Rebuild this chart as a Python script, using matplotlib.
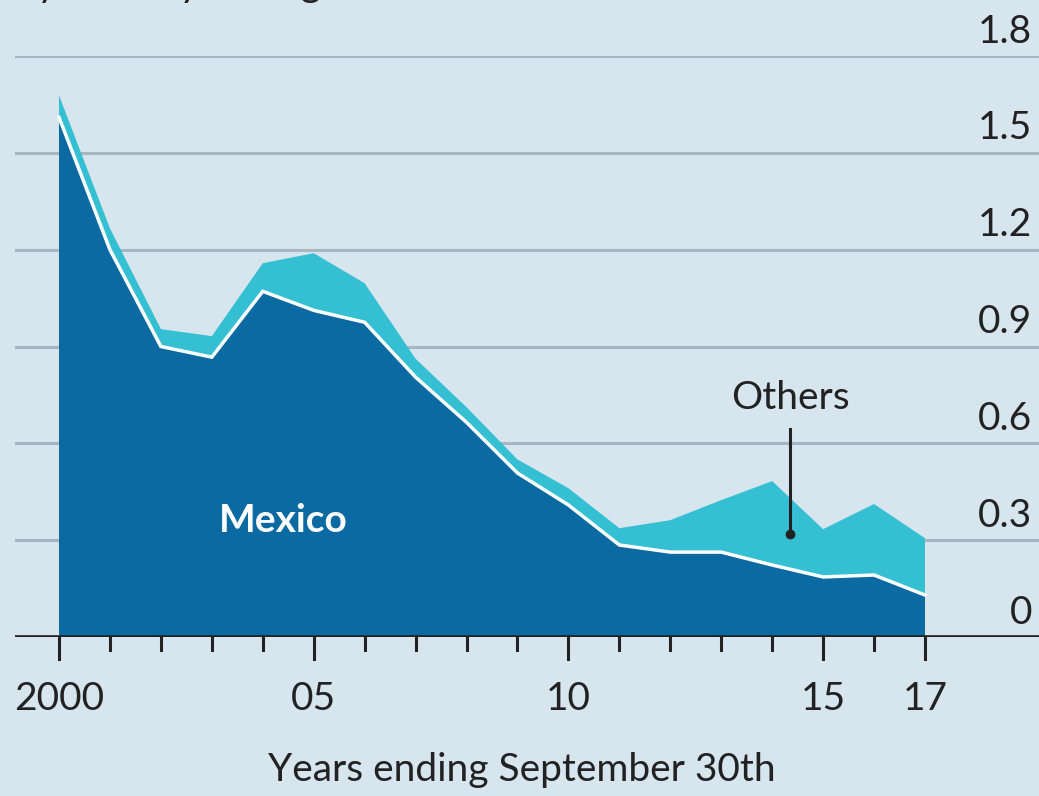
import numpy as np
import matplotlib
matplotlib.use("Agg")
import matplotlib.pyplot as plt
from matplotlib import font_manager
from matplotlib.transforms import blended_transform_factory

# data (m)
years = list(range(2000, 2018))
mexico = [1.61, 1.20, 0.90, 0.867, 1.071, 1.012, 0.975, 0.805, 0.665, 0.508,
          0.409, 0.285, 0.263, 0.263, 0.223, 0.186, 0.192, 0.130]
total = [1.678, 1.266, 0.954, 0.932, 1.158, 1.189, 1.096, 0.862, 0.712, 0.550,
         0.461, 0.337, 0.362, 0.424, 0.483, 0.334, 0.412, 0.306]
others = [t - m for t, m in zip(total, mexico)]
ytick_vals = [0, 0.3, 0.6, 0.9, 1.2, 1.5, 1.8]
ytick_labels = ["0", "0.3", "0.6", "0.9", "1.2", "1.5", "1.8"]
xtick_major = [2000, 2005, 2010, 2015, 2017]
xtick_labels = ["2000", "05", "10", "15", "17"]

BG = "#d6e5ee"
DARK = "#0a6aa1"
CYAN = "#34bfd2"
GRID = "#a7b6c0"
TEXT = "#222222"

# prefer a condensed face if one is installed
installed = {f.name for f in font_manager.fontManager.ttflist}
narrow = "Liberation Sans Narrow" in installed
main_font = "Liberation Sans Narrow" if narrow else "Lato"
plt.rcParams["font.family"] = [main_font, "DejaVu Sans"]
FS = 31 if narrow else 28

W, H = 1039, 796
fig = plt.figure(figsize=(W / 100, H / 100), dpi=100, facecolor=BG)

# axes placed so that 2000 sits at px 59 and 0 at px 637
px_per_year = (925 - 59) / 17
x_left = 2000 - (59 - 15) / px_per_year
x_right = 2000 + (W - 59) / px_per_year
ax_h = 637 - 56
ax = fig.add_axes([15 / W, 1 - 637 / H, 1 - 15 / W, ax_h / H])
ax.set_facecolor(BG)
ax.set_xlim(x_left, x_right)
ax.set_ylim(0, 1.8)

# gridlines
for v in ytick_vals[1:]:
    ax.axhline(v, color=GRID, lw=2.2, zorder=1)

# stacked areas
ax.stackplot(years, mexico, others, colors=[DARK, CYAN], lw=0, zorder=2)
ax.plot(years, mexico, color="white", lw=2.5, zorder=3, solid_joinstyle="miter")

# baseline
ax.axhline(0, color=TEXT, lw=2.6, zorder=4)

for s in ax.spines.values():
    s.set_visible(False)
ax.set_xticks([])
ax.set_yticks([])

# right-hand labels sitting above gridlines
trans = blended_transform_factory(ax.transAxes, ax.transData)
for v, lab in zip(ytick_vals, ytick_labels):
    ax.text(0.9935, v + 0.02, lab, transform=trans, ha="right", va="bottom",
            fontsize=FS, color=TEXT)

# x ticks drawn below the baseline
tick_trans = blended_transform_factory(ax.transData, ax.transAxes)
for yr in years:
    length = 22 if yr in xtick_major else 13
    ax.plot([yr, yr], [0, -length / ax_h], color=TEXT, lw=2.2,
            transform=tick_trans, clip_on=False, zorder=4)
for yr, lab in zip(xtick_major, xtick_labels):
    ax.text(yr, -44 / ax_h, lab, transform=tick_trans, ha="center",
            va="top", fontsize=FS, color=TEXT)

fig.text(522 / W, 1 - 770 / H, "Years ending September 30th", ha="center",
         va="center", fontsize=FS, color=TEXT)

# annotations
ax.text(2004.4, 0.36, "Mexico", ha="center", va="center", fontsize=FS,
        color="white", fontweight="bold")
ax.text(2014.35, 0.74, "Others", ha="center", va="center", fontsize=FS,
        color=TEXT)
ax.plot([2014.35, 2014.35], [0.32, 0.645], color=TEXT, lw=2.2, zorder=5)
ax.plot([2014.35], [0.32], marker="o", ms=6, color=TEXT, zorder=5)

# subtitle clipped at the top edge, as in the original
fig.text(12 / W, 1 + 4 / H, "By country of origin", ha="left",
         va="baseline", fontsize=FS, color=TEXT)

fig.savefig("out.png", dpi=100, facecolor=BG)
